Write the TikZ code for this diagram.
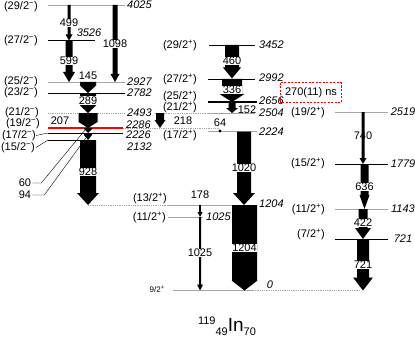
\documentclass[tikz,border=0pt]{standalone}
\usepackage{fontspec}
\setmainfont{Liberation Sans}
\usetikzlibrary{positioning}

\newcommand{\spin}[2]{(#1/2\textsuperscript{#2})}
% gamma: x, y top, y bottom, half width, half head width, head length
\newcommand{\gam}[6]{\fill (#1-#4,#2) -- (#1+#4,#2) -- (#1+#4,#3-#6) -- (#1+#5,#3-#6)
  -- (#1,#3) -- (#1-#5,#3-#6) -- (#1-#4,#3-#6) -- cycle;}

\begin{document}
\begin{tikzpicture}[x=1pt, y=-1pt,
  every node/.style={font=\fontsize{11}{12}\selectfont, inner sep=1pt},
  lvg/.style={gray!70, line width=0.8pt},
  lvk/.style={black, line width=0.6pt},
  lvd/.style={gray!70, densely dotted, line width=0.8pt},
  en/.style={font=\fontsize{11}{12}\selectfont\itshape},
  sp/.style={anchor=east},
  gl/.style={fill=white, inner sep=0.6pt}]
  \useasboundingbox (0,0) rectangle (415,353);

  % negative parity band
  \draw[lvg] (48,5) -- (125,5);
  \draw[lvk] (48,40.5) -- (95,40.5);
  \draw[lvg] (48,82) -- (125,82);
  \draw[lvk] (48,93) -- (125,93);
  \draw[lvd] (48,113) -- (125,113);
  \draw[red, line width=2pt] (48,128) -- (123,128);
  \draw[lvd] (123,128) -- (220,128);
  \draw[lvk] (48,133) -- (123,133);
  \draw[lvk] (48,140) -- (93,140);

  \node[sp] (s29m) at (39,6.5) {\spin{29}{−}};
  \node[sp] (s27m) at (39,41) {\spin{27}{−}};
  \node[sp] (s25m) at (39,82) {\spin{25}{−}};
  \node[sp] (s23m) at (39,93) {\spin{23}{−}};
  \node[sp] (s21m) at (40,113) {\spin{21}{−}};
  \node[sp, inner sep=0pt] (s19m) at (40,124) {\spin{19}{−}};
  \node[sp, inner sep=0pt] (s17m) at (36,135.5) {\spin{17}{−}};
  \node[sp] (s15m) at (36,147.5) {\spin{15}{−}};
  \draw (s17m.east) -- (48,133);
  \draw (s15m.east) -- (48,140);

  \node[en, anchor=west] (e4025) at (126,5) {4025};
  \node[en] (e3526) at (89,33) {3526};
  \node[en, anchor=west] (e2927) at (126,82) {2927};
  \node[en, anchor=west] (e2782) at (126,93) {2782};
  \node[en, anchor=west] (e2493) at (126,113) {2493};
  \node[en, anchor=west, inner sep=0pt] (e2286) at (126,124.5) {2286};
  \node[en, anchor=west, inner sep=0pt] (e2226) at (126,134.5) {2226};
  \node[en, anchor=west] (e2132) at (126,146.5) {2132};

  \gam{69}{5}{40.5}{1.5}{3.5}{6}
  \gam{69}{41}{82}{3.5}{6}{10}
  \gam{115}{5}{82}{2.5}{4.5}{8}
  \gam{88}{82}{93}{8}{8.5}{8}
  \gam{88}{93}{113}{8}{8.5}{8}
  \gam{88}{113}{128}{9.5}{9.5}{6}
  \gam{88}{128}{133}{4}{4}{4}
  \gam{88}{133}{140}{4}{4}{5}
  \gam{88}{140}{205}{8}{11}{12}
  \node[gl] (g499) at (69,23) {499};
  \node[gl] (g599) at (69,61) {599};
  \node[gl] (g1098) at (115,44) {1098};
  \node (g145) at (88,76) {145};
  \node[gl] (g289) at (88,100.5) {289};
  \node (g207) at (60,121) {207};
  \node[gl] (g928) at (88,172) {928};
  \node (g60) at (25,183) {60};
  \node (g94) at (25,195) {94};
  \draw (g60.east) -- ++(9,0) -- (85,130);
  \draw (g94.east) -- ++(12,0) -- (87,136.5);

  % positive parity yrast band
  \draw[lvk] (209,45) -- (255,45);
  \draw[lvk] (208,79) -- (255,79);
  \draw[line width=1.8pt] (208,102) -- (257,102);
  \draw[lvg] (208,113) -- (255,113);
  \draw[lvd] (155,113) -- (208,113);
  \draw[lvg] (208,131.5) -- (257,131.5);
  \draw[lvd] (88,205) -- (168,205);
  \draw[lvg] (168,205) -- (257,205);
  \draw[lvg] (168,217) -- (203,217);
  \draw[lvg] (173,290.5) -- (253,290.5);
  \draw[lvd] (253,290.5) -- (360,290.5);

  \node[sp] (s29p) at (198,45) {\spin{29}{+}};
  \node[sp] (s27p) at (198,79) {\spin{27}{+}};
  \node[sp] (s25p) at (198,96) {\spin{25}{+}};
  \node[sp] (s21p) at (198,107) {\spin{21}{+}};
  \node[sp] (s17p) at (198,135) {\spin{17}{+}};
  \node[sp] (s13p) at (168,198) {\spin{13}{+}};
  \node[sp] (s11p) at (167,217) {\spin{11}{+}};
  \node[sp, font=\fontsize{8}{9}\selectfont] (s9p) at (166,289) {9/2\textsuperscript{+}};

  \node[en, anchor=west] (e3452) at (258,45) {3452};
  \node[en, anchor=west] (e2992) at (258,78) {2992};
  \node[en, anchor=west] (e2656) at (258,101) {2656};
  \node[en, anchor=west] (e2504) at (258,113) {2504};
  \node[en, anchor=west] (e2224) at (258,132) {2224};
  \node[en, anchor=west] (e1204) at (258,204) {1204};
  \node[en, anchor=west] (e1025) at (205,217) {1025};
  \node[en] (e0) at (270,285) {0};

  \gam{232}{45}{78.5}{7}{9}{11}
  \gam{232}{79}{102}{10}{12.5}{8}
  \gam{232}{102}{113}{3.5}{6}{5}
  \gam{160}{113}{128}{4}{5.5}{8}
  \gam{244}{131.5}{205}{7}{11}{12}
  \gam{244.5}{205}{290.5}{12.5}{13}{10}
  \gam{200}{205}{217}{0.8}{2.5}{5}
  \gam{200}{217}{290.5}{1}{3}{6}
  \fill (220,131) circle (1.6);
  \node[gl] (g460) at (232,61) {460};
  \node[gl] (g336) at (232,90) {336};
  \node (g152) at (247,110) {152};
  \node (g218) at (183,121) {218};
  \node (g64) at (220,123) {64};
  \node[gl] (g1020) at (244,168) {1020};
  \node[gl] (g1204) at (244.5,248) {1204};
  \node (g178) at (200,195) {178};
  \node[gl] (g1025) at (200,253) {1025};

  \node[minimum width=60, minimum height=19] (tau) at (311,92.5) {270(11) ns};
  \draw[red, line width=1pt, dash pattern=on 2pt off 1.5pt]
    (tau.north west) rectangle (tau.south east);

  % positive parity sideband
  \draw[lvg] (335,112) -- (388,112);
  \draw[lvk] (335,164) -- (388,164);
  \draw[lvg] (335,209) -- (388,209);
  \draw[lvk] (335,239) -- (388,239);

  \node[sp] (s19q) at (326,112) {\spin{19}{+}};
  \node[sp] (s15q) at (326,163) {\spin{15}{+}};
  \node[sp] (s11q) at (326,209) {\spin{11}{+}};
  \node[sp] (s7q) at (326,234) {\spin{7}{+}};
  \node[en] (e2519) at (403,112) {2519};
  \node[en] (e1779) at (403,164) {1779};
  \node[en] (e1143) at (403,209) {1143};
  \node[en] (e721) at (403,239) {721};

  \gam{363}{112}{164}{1.5}{3.5}{6}
  \gam{364.5}{164}{209}{4}{5}{14}
  \gam{363}{209}{239}{4.5}{8}{11}
  \gam{363}{239}{290.5}{6}{10}{13}
  \node (g740) at (363,136) {740};
  \node[gl] (g636) at (364.5,187) {636};
  \node[gl] (g422) at (363,223) {422};
  \node[gl] (g721) at (363,265) {721};

  \node (title) at (227,326) {\fontsize{19}{21}\selectfont
    \raisebox{7pt}{\fontsize{11}{12}\selectfont 119}\raisebox{-4pt}{\fontsize{11}{12}\selectfont 49}In\raisebox{-4pt}{\fontsize{11}{12}\selectfont 70}};
\end{tikzpicture}
\end{document}
